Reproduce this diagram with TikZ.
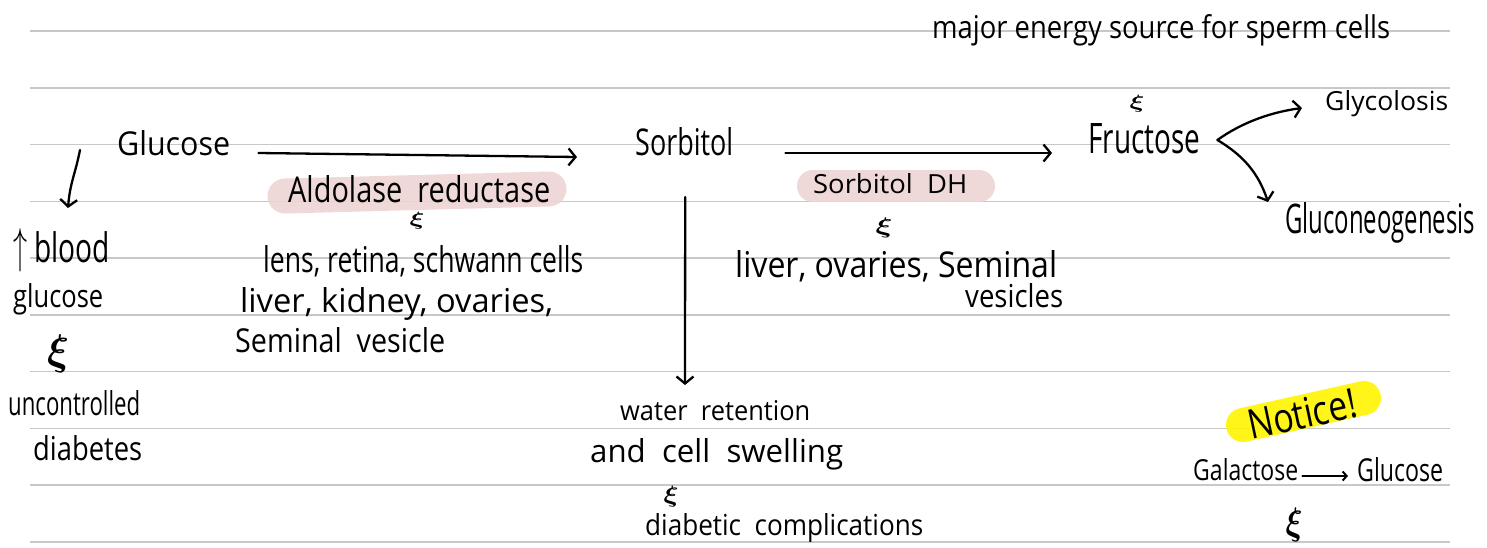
\documentclass[tikz,border=0pt]{standalone}
\usepackage{fontspec}
\setmainfont{Open Sans}
\usetikzlibrary{arrows.meta}
% text squeezed to a given width and height above the baseline
\newcommand{\hw}[3]{\resizebox{#1pt}{#2pt}{#3}}
% the little squiggle mark, given its width and total height
\newcommand{\sqg}[2]{\resizebox*{#1pt}{#2pt}{\boldmath$\xi$}}
\definecolor{rulegray}{RGB}{200,200,200}
\definecolor{hlpink}{RGB}{238,212,212}
\definecolor{hlyellow}{RGB}{255,244,0}
\begin{document}
\begin{tikzpicture}[x=1pt,y=-1pt,
  note/.style={inner sep=0pt, anchor=base west, font=\fontsize{30}{36}\selectfont},
  squig/.style={inner sep=0pt, anchor=center, font=\fontsize{30}{36}\selectfont},
  rule/.style={line width=1.6pt, draw=rulegray},
  pen/.style={line width=2.3pt, line cap=round, line join=round},
  arr/.style={pen, -{Straight Barb[length=7pt,width=17pt]}},
  smallarr/.style={pen, line width=2pt, -{Straight Barb[length=4pt,width=9pt]}},
  marker/.style={line cap=round, opacity=0.9}]
\fill[white] (0,0) rectangle (1487,547);
\useasboundingbox (0,0) rectangle (1487,547);

% ruled paper
\foreach \k in {0,...,9}
  \draw[rule] (30,{31+56.78*\k}) -- (1450,{31+56.78*\k});

% highlighter strokes
\draw[marker, line width=35pt, draw=hlpink] (285,196) -- (549,189);
\draw[marker, line width=32pt, draw=hlpink] (813,186) -- (979,186);
\draw[marker, line width=34pt, draw=hlyellow] (1243,425) -- (1364,398);

% main pathway
\node[note] (glucose) at (117,155) {\hw{113}{25}{Glucose}};
\node[note] (sorbitol) at (635,155) {\hw{98}{28}{Sorbitol}};
\node[note] (fructose) at (1088,153) {\hw{112}{30}{Fructose}};
\node[note] (glycolysis) at (1325,110) {\hw{123}{20}{Glycolosis}};
\node[note] (gng) at (1285,233) {\hw{190}{31}{Gluconeogenesis}};
\node[note] (energy) at (932,38) {\hw{458}{24}{major energy source for sperm cells}};

% enzymes and tissues
\node[note] (ar) at (288,202) {\hw{262}{27}{Aldolase\ \ reductase}};
\node[note] (sdh) at (813,193) {\hw{154}{20}{Sorbitol\ \ DH}};
\node[note] (arA) at (263,272) {\hw{320}{27}{lens, retina, schwann cells}};
\node[note] (arB) at (240,312) {\hw{313}{25}{liver, kidney, ovaries,}};
\node[note] (arC) at (235,352) {\hw{210}{25}{Seminal\ \ vesicle}};
\node[note] (sdhA) at (735,277) {\hw{322}{27}{liver, ovaries, Seminal}};
\node[note] (sdhB) at (965,307) {\hw{98}{24}{vesicles}};

% left column
\node[note] (blood) at (13,262) {\hw{97}{34}{\scalebox{1.2}[1.45]{$\uparrow$} blood}};
\node[note] (bglu) at (13,307) {\hw{90}{24}{glucose}};
\node[note] (unc) at (8,415) {\hw{132}{25}{uncontrolled}};
\node[note] (diab) at (33,460) {\hw{109}{25}{diabetes}};

% consequences of sorbitol build-up
\node[note] (water) at (620,420) {\hw{190}{20}{water\ \ retention}};
\node[note] (swell) at (590,462) {\hw{253}{24}{and\ \ cell\ \ swelling}};
\node[note] (compl) at (645,535) {\hw{278}{22}{diabetic\ \ complications}};

% notice box
\node[inner sep=0pt, rotate=12, font=\fontsize{30}{36}\selectfont] (notice) at (1302,414) {\hw{110}{30}{Notice!}};
\node[note] (gal) at (1193,480) {\hw{105}{22}{Galactose}};
\node[note] (glu2) at (1357,481) {\hw{86}{24}{Glucose}};

% squiggle marks
\node[squig] (s1) at (58,354) {\sqg{22}{38}};
\node[squig] (s2) at (417,221) {\sqg{15}{17}};
\node[squig] (s3) at (884,228) {\sqg{17}{20}};
\node[squig] (s4) at (1137,104) {\sqg{15}{17}};
\node[squig] (s5) at (671,497) {\sqg{15}{21}};
\node[squig] (s6) at (1294,525) {\sqg{17}{34}};

% connectors
\draw[arr] ([shift={(28,-2)}]glucose.base east) -- ([shift={(-58,2)}]sorbitol.base west);
\draw[arr] ([shift={(52,-2)}]sorbitol.base east) -- ([shift={(-36,0)}]fructose.base west);
\draw[arr] ([shift={(-37,-5)}]glucose.base west) .. controls +(-5,25) and +(2,-25) .. ([shift={(55,-54)}]blood.base west);
\draw[arr] ([shift={(1,42)}]sorbitol.base) -- ([shift={(65,-35)}]water.base west);
\coordinate (fork) at ([shift={(17,-13)}]fructose.base east);
\draw[arr] (fork) .. controls +(25,-18) and +(-30,4) .. ([shift={(-23,-2)}]glycolysis.base west);
\draw[arr] (fork) .. controls +(25,15) and +(-10,-30) .. ([shift={(-17,-31)}]gng.base west);
\draw[smallarr] ([shift={(4,-4)}]gal.base east) -- ([shift={(-9,-5)}]glu2.base west);
\end{tikzpicture}
\end{document}
